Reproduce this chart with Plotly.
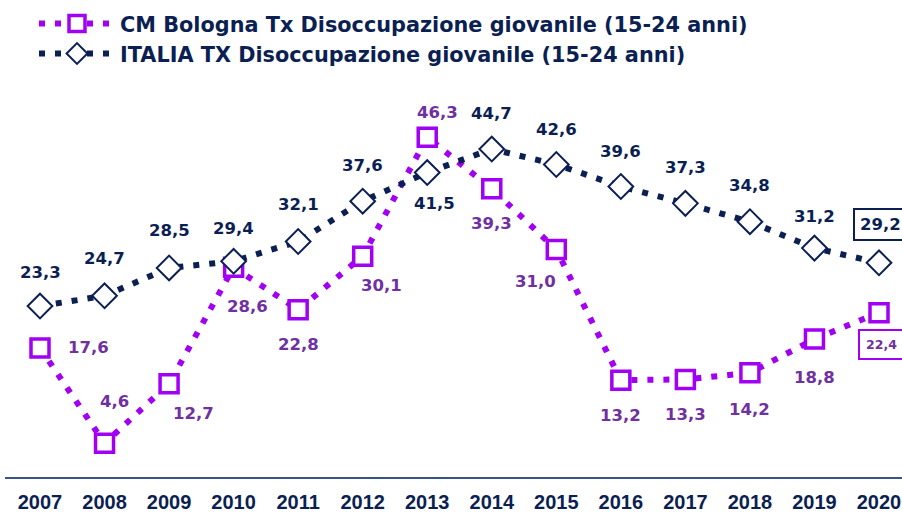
import plotly.graph_objects as go

years = [2007, 2008, 2009, 2010, 2011, 2012, 2013, 2014, 2015, 2016, 2017, 2018, 2019, 2020]
bologna = [17.6, 4.6, 12.7, 28.6, 22.8, 30.1, 46.3, 39.3, 31.0, 13.2, 13.3, 14.2, 18.8, 22.4]
italia = [23.3, 24.7, 28.5, 29.4, 32.1, 37.6, 41.5, 44.7, 42.6, 39.6, 37.3, 34.8, 31.2, 29.2]
bologna_name = "CM Bologna Tx Disoccupazione giovanile (15-24 anni)"
italia_name = "ITALIA TX Disoccupazione giovanile (15-24 anni)"

# label offsets (pixels) for styling
bol_off = [(48, 0), (10, 42), (24, -30), (14, -39), (0, -35), (19, -29), (10, 25),
           (0, -35), (-21, -32), (0, -35), (0, -35), (0, -37), (0, -38), (2, -32)]
ita_off = [(0, 34), (0, 37), (0, 37), (0, 33), (0, 37), (0, 36), (7, -31),
           (0, 36), (0, 35), (0, 35), (0, 36), (0, 36), (0, 32), (1, 38)]

PURPLE = "#a100f2"
PURPLE_TXT = "#7030a0"
NAVY = "#0b1f52"
LABEL_FONT = "DejaVu Sans, Verdana"
TICK_FONT = "Liberation Sans, Arial"

def fmt(v):
    return f"{v:.1f}".replace(".", ",")

fig = go.Figure()
fig.add_trace(go.Scatter(
    x=years, y=bologna, name=bologna_name, mode="lines+markers",
    line=dict(color=PURPLE, width=6, dash="6px,10px"),
    marker=dict(symbol="square", size=18, color="white", line=dict(color=PURPLE, width=3.5)),
    hoverinfo="skip"))
fig.add_trace(go.Scatter(
    x=years, y=italia, name=italia_name, mode="lines+markers",
    line=dict(color=NAVY, width=6, dash="6px,10px"),
    marker=dict(symbol="diamond", size=19, color="white", line=dict(color=NAVY, width=2)),
    hoverinfo="skip"))

ann = []
for i, (x, v) in enumerate(zip(years, bologna)):
    dx, dy = bol_off[i]
    last = i == len(years) - 1
    ann.append(dict(x=x, y=v, xref="x", yref="y", text=fmt(v), showarrow=False,
                    xshift=dx, yshift=dy,
                    font=dict(family=LABEL_FONT, size=12.5 if last else 16.5,
                              color=PURPLE_TXT, weight="bold"),
                    bordercolor=PURPLE if last else None, borderwidth=2 if last else 0,
                    borderpad=6 if last else 0, bgcolor="white" if last else None))
for i, (x, v) in enumerate(zip(years, italia)):
    dx, dy = ita_off[i]
    last = i == len(years) - 1
    ann.append(dict(x=x, y=v, xref="x", yref="y", text=fmt(v), showarrow=False,
                    xshift=dx, yshift=dy,
                    font=dict(family=LABEL_FONT, size=16.5, color=NAVY, weight="bold"),
                    bordercolor=NAVY if last else None, borderwidth=2 if last else 0,
                    borderpad=5 if last else 0, bgcolor="white" if last else None))

fig.update_layout(
    width=902, height=517,
    margin=dict(l=5, r=0, t=80, b=40, autoexpand=False),
    plot_bgcolor="white", paper_bgcolor="white",
    showlegend=True,
    legend=dict(x=34 / 902, y=1.0 - 3.5 / 517, xanchor="left", yanchor="top",
                xref="container", yref="container",
                orientation="v", itemwidth=76,
                font=dict(family=LABEL_FONT, size=20.8, color=NAVY, weight="bold"),
                bgcolor="rgba(0,0,0,0)", tracegroupgap=0),
    annotations=ann,
    xaxis=dict(range=[2007 - 35 / 64.54, 2020 + 23 / 64.54], tickmode="array", tickvals=years,
               ticktext=[str(y) for y in years], showgrid=False, zeroline=False,
               showline=True, linecolor="#3b5488", linewidth=2, automargin=False,
               ticks="", ticklabelstandoff=6,
               tickfont=dict(family=TICK_FONT, size=20, color=NAVY, weight="bold")),
    yaxis=dict(range=[0, 397 / 7.336], visible=False, showgrid=False, zeroline=False,
               automargin=False),
)
fig.write_html("out.html", config={"displayModeBar": False},
               post_script="document.body.style.margin='0';document.body.style.overflow='hidden';")
